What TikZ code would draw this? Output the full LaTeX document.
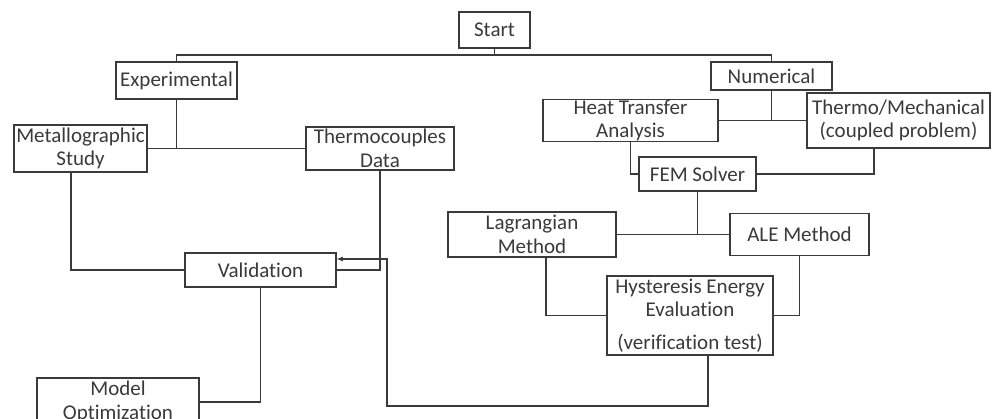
\documentclass[tikz,border=0pt]{standalone}
\usepackage{fontspec}
\setmainfont{Carlito}[Ligatures={NoCommon}]
\usepackage{tikz}
\definecolor{ink}{RGB}{58,58,58}

\begin{document}
\begin{tikzpicture}[x=1pt,y=-1pt,
 box/.style={draw=ink,text=ink,line width=1.15pt,inner sep=0pt,align=center,font=\fontsize{21}{23.5}\selectfont},
 link/.style={draw=ink,line width=1.15pt}]
 \clip (0,0) rectangle (993,419);
 \fill[white] (0,0) rectangle (993,419);

 \node [box,minimum width=71,minimum height=36] (start)at (494.5,30){Start};
 \node [box,minimum width=121,minimum height=37] (exp)at (176.5,80.5){Experimental};
 \node [box,minimum width=121,minimum height=28] (num)at (771.5,76){Numerical};
 \node [box,minimum width=133,minimum height=47] (meta)at (80.5,148.5){Metallographic\\Study};
 \node [box,minimum width=148,minimum height=43] (thermo)at (380,148.5){Thermocouples\\Data};
 \node [box,minimum width=151,minimum height=34] (valid)at (260.5,270){Validation};
 \node [box,minimum width=162,minimum height=48] (model)at (118,402){Model\\Optimization};
 \node [box,minimum width=175,minimum height=40] (heat)at (630.5,120.5){Heat Transfer\\Analysis};
 \node [box,minimum width=183,minimum height=55] (tm)at (898.5,120.5){Thermo/Mechanical\\(coupled problem)};
 \node [box,minimum width=117,minimum height=34] (fem)at (697.5,174){FEM Solver};
 \node [box,minimum width=168,minimum height=45] (lag)at (532,234.5){Lagrangian\\Method};
 \node [box,minimum width=139,minimum height=42] (ale)at (799.5,234.5){ALE Method};
 \node [box,minimum width=166,minimum height=79] (hyst)at (690,315.5){Hysteresis Energy\\Evaluation\\[9pt](verification test)};

 \coordinate (split)at (494.5,55);
 \coordinate (expj)at (exp.south |- meta.east);
 \coordinate (numj)at (num.south |- heat.east);
 \coordinate (femj)at (fem.south |- lag.east);
 \coordinate (back)at (387,406);

 \draw[link] (start) -- (split);
 \draw[link] (exp.north) |- (split) -| (num.north);
 \draw[link] (exp) -- (expj);
 \draw[link] (meta.east) -- (thermo.west);
 \draw[link] ([xshift=-9.5]meta.south) |- (valid.west);
 \draw[link] (thermo.south) |- (valid.east);
 \draw[link] (valid.south) |- (model.east);

 \draw[link] (num) -- (numj);
 \draw[link] (heat.east) -- (tm.west);
 \draw[link] (heat.south) |- (fem.west);
 \draw[link] ([xshift=-24.5]tm.south) |- (fem.east);
 \draw[link] (fem) -- (femj);
 \draw[link] (lag.east) -- (ale.west);
 \draw[link] ([xshift=14]lag.south) |- (hyst.west);
 \draw[link] (ale.south) |- (hyst.east);
 \draw[link,->,>=latex] ([xshift=18]hyst.south) |- (back) |- ([yshift=11]valid.east);

\end{tikzpicture}
\end{document}
